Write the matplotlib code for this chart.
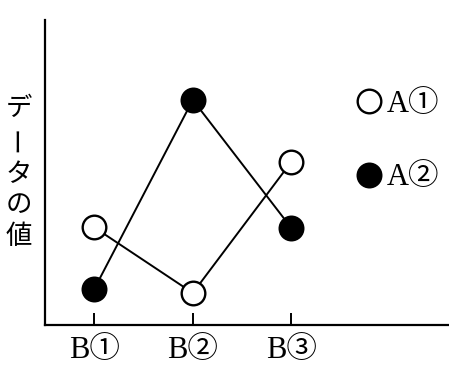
import matplotlib
matplotlib.use('Agg')
import matplotlib.pyplot as plt
from matplotlib.lines import Line2D

# ---- data (arbitrary units 0-100)
b_labels = ["B①", "B②", "B③"]
a_labels = ["A①", "A②"]
a1_vals = [32.0, 10.5, 53.5]
a2_vals = [11.8, 73.8, 31.8]
ylabel_chars = ["デ", "ー", "タ", "の", "値"]

serif = ['Liberation Serif', 'Noto Sans CJK JP']
jp = ['Noto Sans CJK JP', 'DejaVu Sans']

fig = plt.figure(figsize=(4.49, 3.69), dpi=100)
ax = fig.add_axes([45/449, 44/369, 404/449, 305/369])

x = [1, 2, 3]
ax.plot(x, a1_vals, color='black', lw=1.4, zorder=1)
ax.plot(x, a2_vals, color='black', lw=1.4, zorder=1)
ax.plot(x, a1_vals, ls='none', marker='o', ms=17, mfc='white', mec='black', mew=1.7, zorder=3)
ax.plot(x, a2_vals, ls='none', marker='o', ms=17, mfc='black', mec='black', mew=1.7, zorder=3)

ax.set_xlim(0.5, 4.6)
ax.set_ylim(0, 100)
ax.set_xticks(x)
ax.set_xticklabels(b_labels, fontfamily=serif, fontsize=22)
ax.set_yticks([])
ax.tick_params(axis='x', direction='in', length=9, width=1.4, pad=8)
for s in ['top', 'right']:
    ax.spines[s].set_visible(False)
for s in ['left', 'bottom']:
    ax.spines[s].set_linewidth(1.6)

# legend, markers only
handles = [
    Line2D([], [], ls='none', marker='o', ms=17, mfc='white', mec='black', mew=1.7),
    Line2D([], [], ls='none', marker='o', ms=17, mfc='black', mec='black', mew=1.7),
]
ax.legend(handles, a_labels, frameon=False, loc='upper left',
          bbox_to_anchor=(0.745, 0.81), prop={'family': serif, 'size': 22},
          handlelength=0.7, handletextpad=0.25, labelspacing=1.45, borderaxespad=0)

# vertical y label, one character per line
ys = [108, 139, 175, 205, 236]
for ch, py in zip(ylabel_chars, ys):
    rot = 90 if ch == "ー" else 0
    fig.text(19/449, 1 - py/369, ch, ha='center', va='center', rotation=rot,
             fontfamily=jp, fontsize=19)

plt.savefig('out.png', dpi=100)
